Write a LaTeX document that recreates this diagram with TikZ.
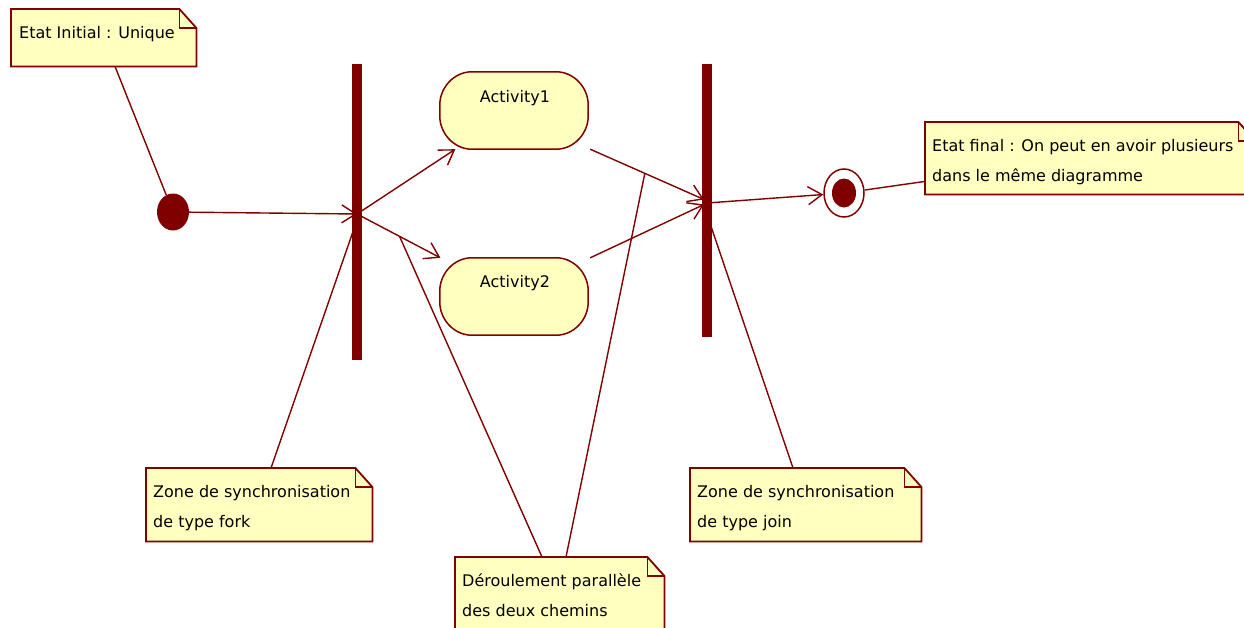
\documentclass[tikz,border=0pt]{standalone}
\usepackage{fontspec}
\setmainfont{DejaVu Sans}
\usetikzlibrary{arrows.meta,shapes.geometric}
\definecolor{dred}{RGB}{128,0,0}
\definecolor{nyel}{RGB}{255,255,192}
\newcommand\foldnote[1]{%
  \draw[notefold] (#1.north west) -- ([xshift=-17pt]#1.north east) -- ([yshift=-19pt]#1.north east) -- (#1.south east) -- (#1.south west) -- cycle;
  \draw[notefold,fill=none] ([xshift=-17pt]#1.north east) -- ([xshift=-17pt,yshift=-19pt]#1.north east) -- ([yshift=-19pt]#1.north east);}
\newcommand\actshape[1]{%
  \draw[actdraw] ([xshift=32pt]#1.north west) -- ([xshift=-32pt]#1.north east)
    .. controls ([xshift=-14pt]#1.north east) and ([yshift=-16pt]#1.north east) .. ([yshift=-33pt]#1.north east)
    -- ([yshift=33pt]#1.south east)
    .. controls ([yshift=16pt]#1.south east) and ([xshift=-14pt]#1.south east) .. ([xshift=-32pt]#1.south east)
    -- ([xshift=32pt]#1.south west)
    .. controls ([xshift=14pt]#1.south west) and ([yshift=16pt]#1.south west) .. ([yshift=33pt]#1.south west)
    -- ([yshift=-33pt]#1.north west)
    .. controls ([yshift=-16pt]#1.north west) and ([xshift=14pt]#1.north west) .. cycle;}
\begin{document}
\begin{tikzpicture}[x=1pt,y=-1pt,
  notebox/.style={rectangle,inner sep=0pt,anchor=north west,draw=none},
  notefold/.style={draw=dred,fill=nyel,line width=1.8pt,line join=miter},
  notetext/.style={anchor=north west,inner sep=0pt,align=left,font=\fontsize{16}{30}\selectfont},
  actbox/.style={rectangle,draw=none,minimum width=148pt,minimum height=77pt,inner sep=0pt},
  actdraw/.style={draw=dred,fill=nyel,line width=1.5pt},
  acttext/.style={inner sep=0pt,font=\fontsize{16}{20}\selectfont},
  syncbar/.style={rectangle,fill=dred,draw=none,minimum width=10pt,inner sep=0pt},
  flow/.style={draw=dred,line width=1.4pt,-{Straight Barb[length=14pt,width=18pt]}},
  link/.style={draw=dred,line width=1.4pt}]
\clip (0,0) rectangle (1244,627);
\useasboundingbox (0,0) rectangle (1244,627);
\fill[white] (0,0) rectangle (1244,627);

% notes
\node[notebox,minimum width=185pt,minimum height=57pt] (nInit) at (11,9) {};
\foldnote{nInit}
\node[notetext] (nInitT) at (19,25) {\rule{0pt}{13pt}Etat Initial : Unique};

\node[notebox,minimum width=330pt,minimum height=72pt] (nFinal) at (925,122) {};
\foldnote{nFinal}
\node[notetext] (nFinalT) at (932,138) {\rule{0pt}{13pt}Etat final : On peut en avoir plusieurs\\dans le même diagramme};

\node[notebox,minimum width=226pt,minimum height=73pt] (nFork) at (146,468) {};
\foldnote{nFork}
\node[notetext] (nForkT) at (153,484) {\rule{0pt}{13pt}Zone de synchronisation\\de type fork};

\node[notebox,minimum width=209pt,minimum height=90pt] (nPar) at (455,557) {};
\foldnote{nPar}
\node[notetext] (nParT) at (462,573) {\rule{0pt}{13pt}Déroulement parallèle\\des deux chemins};

\node[notebox,minimum width=231pt,minimum height=73pt] (nJoin) at (690,468) {};
\foldnote{nJoin}
\node[notetext] (nJoinT) at (697,484) {\rule{0pt}{13pt}Zone de synchronisation\\de type join};

% states
\node[ellipse,fill=dred,draw=none,minimum width=32pt,minimum height=37pt,inner sep=0pt] (init) at (173,212) {};
\node[syncbar,minimum height=296pt] (fork) at (357,212) {};
\node[syncbar,minimum height=273pt] (join) at (707,200.5) {};
\node[actbox] (act1) at (514,110.5) {};
\actshape{act1}
\node[acttext] (act1T) at (515,98) {Activity1};
\node[actbox] (act2) at (514,296.5) {};
\actshape{act2}
\node[acttext] (act2T) at (515,283) {Activity2};
\node[ellipse,draw=dred,fill=white,line width=1.5pt,minimum width=40pt,minimum height=48pt,inner sep=0pt] (final) at (844,193) {};
\node[ellipse,fill=dred,draw=none,minimum width=24pt,minimum height=29pt,inner sep=0pt] (finalIn) at (844,193) {};

% flows
\draw[flow] (init) -- ([yshift=-2pt]fork.center);
\draw[flow] ([yshift=-2pt]fork.center) -- (act1);
\draw[flow] ([yshift=-2pt]fork.center) -- (act2) coordinate[pos=0.51] (onA2);
\draw[flow] ([xshift=2pt]act1.south east) -- ([xshift=-3pt,yshift=1pt]join.center) coordinate[pos=0.48] (onA1);
\draw[flow] ([xshift=2pt]act2.north east) -- ([xshift=-3pt,yshift=-4pt]join.center);
\draw[flow] ([yshift=-2.5pt]join.center) -- (final);

% note links
\draw[link] ([xshift=104pt]nInit.south west) -- (init);
\draw[link] (final) -- ([yshift=13pt]nFinal.south west);
\draw[link] ([xshift=125pt]nFork.north west) -- ([yshift=-8pt]fork.center);
\draw[link] ([xshift=87pt]nPar.north west) -- (onA2);
\draw[link] ([xshift=111pt]nPar.north west) -- (onA1);
\draw[link] ([xshift=103pt]nJoin.north west) -- ([yshift=-14pt]join.center);
\end{tikzpicture}
\end{document}
